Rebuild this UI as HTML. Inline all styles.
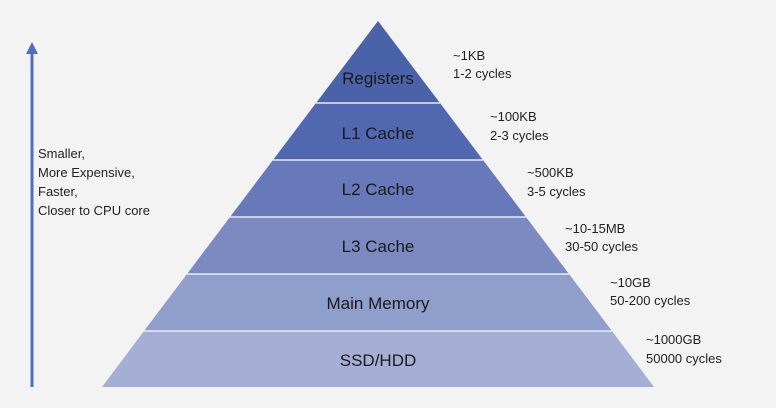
<!DOCTYPE html>
<html><head><meta charset="utf-8"><style>
body{margin:0;background:#f3f3f3;}
svg{display:block;font-family:"Liberation Sans",sans-serif;}
</style></head><body>
<svg width="776" height="408" viewBox="0 0 776 408">
<rect width="776" height="408" fill="#f3f3f3"/>
<line x1="32" y1="387" x2="32" y2="52" stroke="#4f6fc0" stroke-width="3"/>
<polygon points="26,54 32,42 38,54" fill="#4f6fc0"/>
<g font-size="13" fill="#222">
<text x="38" y="158">Smaller,</text>
<text x="38" y="177">More Expensive,</text>
<text x="38" y="196">Faster,</text>
<text x="38" y="215">Closer to CPU core</text>
</g>
<polygon points="378,21 440,103 316,103" fill="#4a62a8"/>
<polygon points="316,103 440,103 483,160 273,160" fill="#5168b0"/>
<polygon points="273,160 483,160 526,217 230,217" fill="#6779b8"/>
<polygon points="230,217 526,217 569,274 187,274" fill="#7b8bc2"/>
<polygon points="187,274 569,274 612,331 144,331" fill="#909ecb"/>
<polygon points="144,331 612,331 654,387 102,387" fill="#a5afd5"/>
<g stroke="#e8ebf4" stroke-width="1.5">
<line x1="316" y1="103" x2="440" y2="103"/><line x1="273" y1="160" x2="483" y2="160"/>
<line x1="230" y1="217" x2="526" y2="217"/><line x1="187" y1="274" x2="569" y2="274"/>
<line x1="144" y1="331" x2="612" y2="331"/>
</g>
<g font-size="17" fill="#1a1a1a" text-anchor="middle">
<text x="378" y="84">Registers</text>
<text x="378" y="139">L1 Cache</text>
<text x="378" y="195">L2 Cache</text>
<text x="378" y="252">L3 Cache</text>
<text x="378" y="309">Main Memory</text>
<text x="378" y="366">SSD/HDD</text>
</g>
<g font-size="13" fill="#222">
<text x="453" y="60">~1KB</text><text x="453" y="78">1-2 cycles</text>
<text x="490" y="121">~100KB</text><text x="490" y="140">2-3 cycles</text>
<text x="527" y="177">~500KB</text><text x="527" y="196">3-5 cycles</text>
<text x="565" y="233">~10-15MB</text><text x="565" y="251">30-50 cycles</text>
<text x="610" y="287">~10GB</text><text x="610" y="305">50-200 cycles</text>
<text x="646" y="344">~1000GB</text><text x="646" y="363">50000 cycles</text>
</g>
</svg>
</body></html>
